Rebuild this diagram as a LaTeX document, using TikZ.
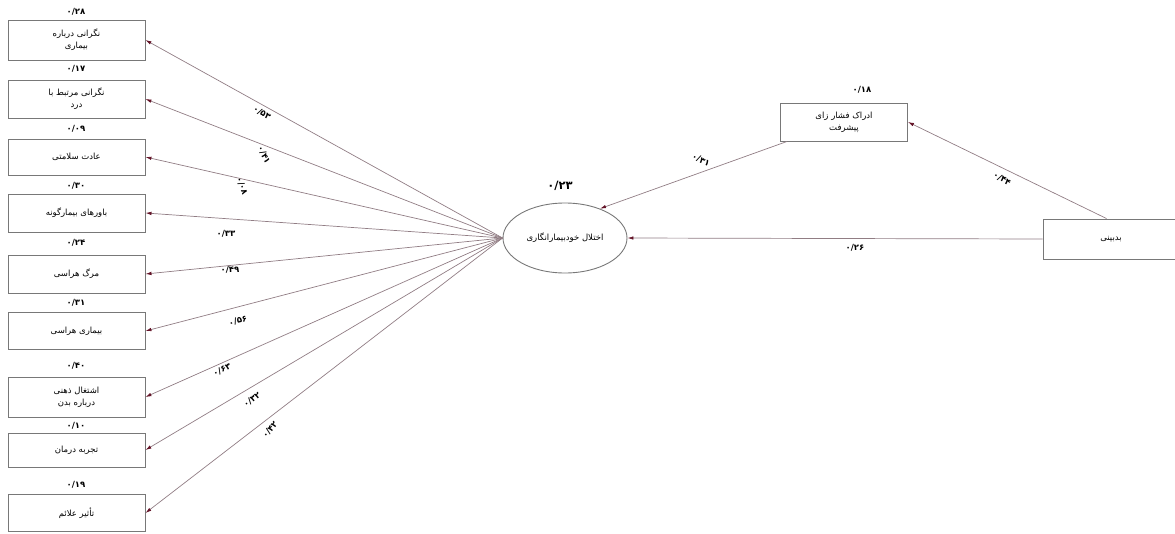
\documentclass[tikz,border=0pt]{standalone}
\usepackage{fontspec}
\TeXXeTstate=1
\newfontfamily\fa[Script=Arabic]{DejaVu Sans}
\usetikzlibrary{arrows.meta,calc,shapes.geometric}
\newcommand\rl[1]{\beginR #1\endR}
\definecolor{linec}{RGB}{145,125,132}
\definecolor{tipc}{RGB}{100,20,40}
\definecolor{boxc}{RGB}{120,120,120}
\tikzset{
  vbox/.style={draw=boxc, line width=0.9pt, minimum width=137pt, minimum height=38pt,
    inner sep=0pt, align=center, font=\fa\fontsize{8.5}{12}\selectfont},
  vnum/.style={font=\fa\bfseries\fontsize{8.5}{9}\selectfont, inner sep=0pt},
  elab/.style={font=\fa\bfseries\fontsize{8.5}{9}\selectfont, inner sep=0pt},
  parrow/.style={draw=linec, line width=0.7pt, -{Latex[length=6pt,width=3.5pt,color=tipc]}},
}
\begin{document}
\begin{tikzpicture}[x=1pt,y=-1pt]
\useasboundingbox (0,0) rectangle (1175,533);
% left boxes
\node[vbox, minimum height=40pt] (b1) at (76.5,40) {\rl{نگرانی درباره}\\\rl{بیماری}};
\node[vbox] (b2) at (76.5,99) {\rl{نگرانی مرتبط با}\\\rl{درد}};
\node[vbox, minimum height=36pt] (b3) at (76.5,157) {\rl{عادت سلامتی}};
\node[vbox] (b4) at (76.5,213) {\rl{باورهای بیمارگونه}};
\node[vbox] (b5) at (76.5,274) {\rl{مرگ هراسی}};
\node[vbox, minimum height=37pt] (b6) at (76.5,331) {\rl{بیماری هراسی}};
\node[vbox, minimum height=40pt] (b7) at (76.5,397) {\rl{اشتغال ذهنی}\\\rl{درباره بدن}};
\node[vbox, minimum height=34pt] (b8) at (76.5,450) {\rl{تجربه درمان}};
\node[vbox, minimum height=37pt] (b9) at (76.5,513) {\rl{تأثیر علائم}};
% variances
\node[vnum] (v1) at (76,12) {۰/۲۸};
\node[vnum] (v2) at (76,69) {۰/۱۷};
\node[vnum] (v3) at (76,129) {۰/۰۹};
\node[vnum] (v4) at (76,186) {۰/۳۰};
\node[vnum] (v5) at (76,243) {۰/۲۴};
\node[vnum] (v6) at (76,303) {۰/۳۱};
\node[vnum] (v7) at (76,366) {۰/۴۰};
\node[vnum] (v8) at (76,426) {۰/۱۰};
\node[vnum] (v9) at (76,485) {۰/۱۹};
% ellipse
\node[draw=boxc, line width=0.9pt, ellipse, minimum width=124pt, minimum height=70pt,
  inner sep=0pt, font=\fa\fontsize{8.5}{10}\selectfont] (E) at (565,238) {\rl{اختلال خودبیمارانگاری}};
\node[vnum, font=\fa\bfseries\fontsize{11.5}{12}\selectfont] (vE) at (560,186) {۰/۲۳};
% right boxes
\node[vbox, minimum width=127pt, minimum height=38pt] (P) at (844,122) {\rl{ادراک فشار زای}\\\rl{پیشرفت}};
\node[vnum] (vP) at (862,90) {۰/۱۸};
\node[vbox, minimum width=136pt, minimum height=40pt] (B) at (1111,239) {\rl{بدبینی}};
% arrows from E to left boxes
\foreach \b in {b1,b2,b3,b4,b5,b6,b7,b8,b9}{
  \draw[parrow] (E.west) -- (\b.east);
}
% right arrows
\draw[parrow] (B.west) -- (E.east);
\coordinate (Bt) at ($(B.north west)+(64,0)$);
\draw[parrow] (Bt) -- (P.east);
\coordinate (Pb) at ($(P.south west)+(7,0)$);
\draw[parrow] (Pb) -- (E.40);
% edge labels
\node[elab, rotate=-30] (l1) at (262,113) {۰/۵۳};
\node[elab, rotate=-65] (l2) at (264,155) {۰/۴۱};
\node[elab, rotate=-70] (l3) at (242,186) {۰/۰۸};
\node[elab] (l4) at (226,234) {۰/۳۳};
\node[elab] (l5) at (230,270) {۰/۴۹};
\node[elab, rotate=15] (l6) at (238,321) {۰/۵۶};
\node[elab, rotate=25] (l7) at (222,370) {۰/۶۳};
\node[elab, rotate=35] (l8) at (252,400) {۰/۳۲};
\node[elab, rotate=50] (l9) at (270,430) {۰/۴۲};
\node[elab, rotate=-25] (l10) at (701,160) {۰/۳۱};
\node[elab, rotate=-30] (l11) at (1002,179) {۰/۴۴};
\node[elab] (l12) at (855,248) {۰/۲۶};
\end{tikzpicture}
\end{document}
